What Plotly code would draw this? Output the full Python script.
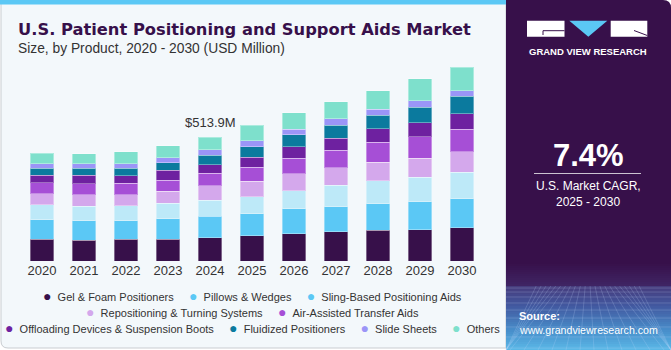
import plotly.graph_objects as go

W, H = 671, 350

# ---------------- data (USD Million) ----------------
years = ["2020", "2021", "2022", "2023", "2024", "2025", "2026", "2027", "2028", "2029", "2030"]

gel_foam      = [90.0, 85.8, 90.0, 90.4, 97.4, 104.1, 112.4, 122.0, 127.9, 130.3, 138.7]
pillows       = [80.8, 80.8, 76.6, 84.5, 87.5, 91.6, 104.1, 104.1, 109.5, 115.4, 120.8]
sling_based   = [62.5, 60.8, 62.5, 65.4, 67.9, 72.0, 76.2, 89.1, 95.8, 102.9, 109.5]
repositioning = [47.1, 48.7, 47.1, 48.7, 59.6, 63.7, 70.8, 72.0, 76.2, 79.1, 84.5]
air_assisted  = [44.6, 44.6, 45.8, 47.1, 52.9, 57.1, 62.5, 72.0, 83.3, 87.5, 92.9]
offloading    = [31.6, 34.6, 32.1, 40.4, 34.6, 42.9, 48.7, 50.0, 55.8, 59.6, 65.4]
fluidized     = [29.2, 29.2, 31.7, 31.7, 40.4, 42.9, 50.0, 55.8, 56.6, 63.7, 72.0]
slide_sheets  = [18.3, 19.6, 18.3, 20.8, 22.1, 25.0, 22.1, 25.0, 25.0, 27.9, 23.7]
others        = [42.9, 41.6, 50.0, 50.0, 51.5, 64.1, 69.5, 72.0, 77.9, 91.6, 97.0]

series_names = [
    "Gel & Foam Positioners", "Pillows & Wedges", "Sling-Based Positioning Aids",
    "Repositioning & Turning Systems", "Air-Assisted Transfer Aids",
    "Offloading Devices & Suspension Boots", "Fluidized Positioners", "Slide Sheets", "Others",
]
series_values = [gel_foam, pillows, sling_based, repositioning, air_assisted,
                 offloading, fluidized, slide_sheets, others]

highlight_year = "2024"
cagr_text = "7.4%"
cagr_label = ["U.S. Market CAGR,", "2025 - 2030"]
title_text = "U.S. Patient Positioning and Support Aids Market"
subtitle_text = "Size, by Product, 2020 - 2030 (USD Million)"
legend_rows = [[0, 1, 2], [3, 4], [5, 6, 7, 8]]

# ---------------- styles ----------------
bar_colors = ["#37104a", "#5bc8f5", "#bde9f8", "#d4a8ec", "#a64fd6",
              "#6e21a0", "#0b7a9e", "#9b95f7", "#7ee0cc"]
legend_dot_colors = ["#37104a", "#5bc8f5", "#5bc8f5", "#d4a8ec", "#a64fd6",
                     "#6e21a0", "#0b7a9e", "#9b95f7", "#7ee0cc"]
FONT = "Liberation Sans"
DARK = "#37104a"


def px(x):
    return x / W


def py(y):
    return 1 - y / H


fig = go.Figure()
for name, vals, col in zip(series_names, series_values, bar_colors):
    fig.add_trace(go.Bar(
        x=years, y=vals, name=name,
        marker=dict(color=col, line=dict(color="rgba(255,255,255,0.35)", width=1)),
        showlegend=False, hovertemplate="%{x}: %{y}<extra>" + name + "</extra>",
    ))

shapes = []
# left panel background
shapes.append(dict(type="path", xref="paper", yref="paper", layer="below",
                   path=f"M {px(1)} {py(0)} L {px(506)} {py(0)} L {px(506)} {py(348)} "
                        f"L {px(8)} {py(348)} Q {px(1)} {py(348)} {px(1)} {py(341)} Z",
                   fillcolor="#f3f8fb", line=dict(color="#c9cdd1", width=1)))
# top strip
shapes.append(dict(type="rect", xref="paper", yref="paper", layer="below",
                   x0=px(0), x1=px(506), y0=py(0), y1=py(4.5),
                   fillcolor="#5bc8f5", line=dict(width=0)))

# right panel with gradient bottom
shapes.append(dict(type="path", xref="paper", yref="paper", layer="below",
                   path=f"M {px(506)} {py(0)} L {px(663)} {py(0)} Q {px(671)} {py(0)} {px(671)} {py(8)} "
                        f"L {px(671)} {py(350)} L {px(506)} {py(350)} Z",
                   fillcolor=DARK, line=dict(width=0)))


def hex2rgb(h):
    h = h.lstrip("#")
    return tuple(int(h[i:i + 2], 16) for i in (0, 2, 4))


stops = [(262, "#37104a"), (284, "#3f2463"), (286, "#463c7d"), (305, "#4259a0"),
         (330, "#488fcb"), (350, "#5cbbe9")]
y = 262
while y < 350:
    for (ya, ca), (yb, cb) in zip(stops[:-1], stops[1:]):
        if ya <= y < yb:
            t = (y - ya) / (yb - ya)
            a, b = hex2rgb(ca), hex2rgb(cb)
            c = tuple(round(a[i] + (b[i] - a[i]) * t) for i in range(3))
            break
    shapes.append(dict(type="rect", xref="paper", yref="paper", layer="below",
                       x0=px(506), x1=px(671), y0=py(y), y1=py(min(y + 2, 350)),
                       fillcolor="rgb(%d,%d,%d)" % c, line=dict(width=0)))
    y += 2

# perspective mesh
grid_col = "rgba(200,220,255,0.2)"
for gy in [288, 292, 297, 303, 310, 318, 327, 337, 348]:
    shapes.append(dict(type="line", xref="paper", yref="paper", layer="below",
                       x0=px(506), x1=px(671), y0=py(gy), y1=py(gy),
                       line=dict(color=grid_col, width=1)))
vx = 588
for bx in range(440, 740, 14):
    shapes.append(dict(type="line", xref="paper", yref="paper", layer="below",
                       x0=px(max(506, min(671, vx + (bx - vx) * 0.35))), y0=py(286),
                       x1=px(max(506, min(671, bx))), y1=py(350),
                       line=dict(color=grid_col, width=1)))

# CAGR divider
shapes.append(dict(type="line", xref="paper", yref="paper",
                   x0=px(534), x1=px(641), y0=py(173.5), y1=py(173.5),
                   line=dict(color="rgba(255,255,255,0.75)", width=1)))

# logo
shapes.append(dict(type="rect", xref="paper", yref="paper",
                   x0=px(527), x1=px(564.5), y0=py(20.7), y1=py(36.7),
                   fillcolor="white", line=dict(width=0)))
shapes.append(dict(type="path", xref="paper", yref="paper",
                   path=f"M {px(564.5)} {py(30.7)} L {px(543)} {py(30.7)} L {px(543)} {py(35)}",
                   line=dict(color=DARK, width=1)))
shapes.append(dict(type="path", xref="paper", yref="paper",
                   path=f"M {px(569.3)} {py(20.7)} L {px(607.3)} {py(20.7)} L {px(588.3)} {py(36.7)} Z",
                   fillcolor="#5bc8f5", line=dict(width=0)))
shapes.append(dict(type="rect", xref="paper", yref="paper",
                   x0=px(610.7), x1=px(647.3), y0=py(20.7), y1=py(36.7),
                   fillcolor="white", line=dict(width=0)))
shapes.append(dict(type="path", xref="paper", yref="paper",
                   path=f"M {px(634)} {py(30.5)} L {px(647.3)} {py(35.5)}",
                   line=dict(color=DARK, width=1)))

annotations = []


def text(x, y, s, size, color, anchor="left", bold=False, family=FONT):
    if bold:
        s = "<b>" + s + "</b>"
    annotations.append(dict(xref="paper", yref="paper", x=px(x), y=py(y), text=s,
                            showarrow=False, xanchor=anchor, yanchor="middle",
                            font=dict(size=size, color=color, family=family)))


text(16, 29.5, title_text, 16.3, DARK, bold=True, family="DejaVu Sans")
text(16, 48.5, subtitle_text, 13.8, "#333333")

# highlighted total
hi = years.index(highlight_year)
hi_total = sum(v[hi] for v in series_values)
annotations.append(dict(xref="x", yref="y", x=hi, y=hi_total,
                        text=f"${hi_total:.1f}M", showarrow=False, yanchor="bottom",
                        yshift=5, font=dict(size=13, color="#333333", family=FONT)))

# legend rows
legend_y = [296, 312.3, 328.3]
for row, ly in zip(legend_rows, legend_y):
    parts = []
    for i in row:
        parts.append(f"<span style='color:{legend_dot_colors[i]};font-size:14px'>●</span>"
                     f"&nbsp;&nbsp;{series_names[i]}")
    text(253, ly, "&nbsp;&nbsp;&nbsp;&nbsp;&nbsp;".join(parts), 11, "#333333", anchor="center")

# right panel texts
text(587.5, 51.7, "GRAND VIEW RESEARCH", 9.5, "white", anchor="center", bold=True)
text(588, 155, cagr_text, 31, "white", anchor="center", bold=True)
text(588, 185.5, cagr_label[0], 12, "white", anchor="center")
text(588, 201.5, cagr_label[1], 12, "white", anchor="center")
text(517, 316, "Source:", 11, "white", bold=True)
text(517, 330, "www.grandviewresearch.com", 10.6, "white")

max_y = (261 - 59) * (hi_total / (261 - 137.3))

fig.update_layout(
    width=W, height=H, margin=dict(l=0, r=0, t=0, b=0),
    paper_bgcolor="white", plot_bgcolor="rgba(0,0,0,0)",
    barmode="stack", bargap=0.452,
    shapes=shapes, annotations=annotations,
    font=dict(family=FONT, color="#333333"),
    xaxis=dict(domain=[px(21), px(483)], type="category", range=[-0.5, len(years) - 0.5],
               showgrid=False, zeroline=False,
               showline=False, ticks="", tickfont=dict(size=13, color="#333333", family=FONT),
               automargin=False, fixedrange=True),
    yaxis=dict(domain=[py(261), py(59)], range=[0, max_y], visible=False,
               automargin=False, fixedrange=True),
    showlegend=False,
)

fig.write_html("out.html")
